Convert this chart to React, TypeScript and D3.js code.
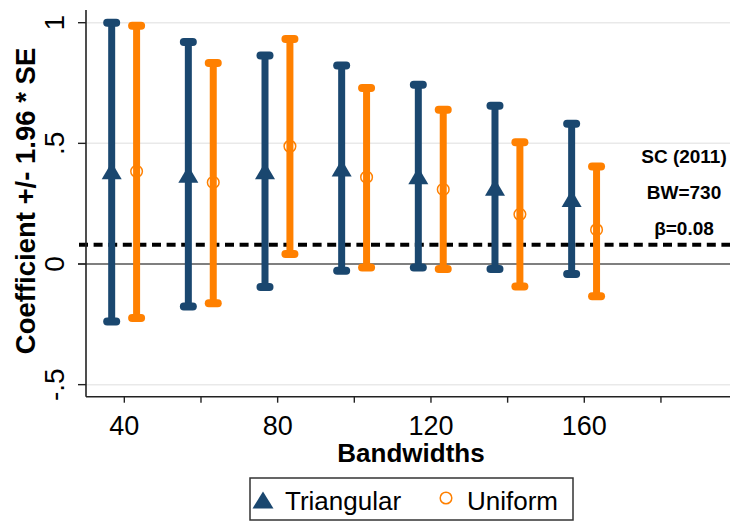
import React from "react";
import * as d3 from "d3";

// Bandwidth groups and the two kernel estimates (coefficient with its 95% band)
const bandwidths = [40, 60, 80, 100, 120, 140, 160];

const triCoef = [0.386, 0.372, 0.386, 0.398, 0.366, 0.318, 0.271];
const triLower = [-0.238, -0.176, -0.095, -0.028, -0.014, -0.021, -0.041];
const triUpper = [1.0, 0.92, 0.864, 0.823, 0.743, 0.656, 0.581];

const uniCoef = [0.384, 0.338, 0.488, 0.36, 0.309, 0.206, 0.142];
const uniLower = [-0.224, -0.163, 0.041, -0.014, -0.021, -0.093, -0.134];
const uniUpper = [0.987, 0.833, 0.932, 0.729, 0.639, 0.505, 0.404];

const xTicks = [40, 60, 80, 100, 120, 140, 160, 180];
const xTickLabels = [40, 80, 120, 160];
const yTicks = [-0.5, 0, 0.5, 1];
const yTickLabels = ["-.5", "0", ".5", "1"];

const benchmark = 0.08;
const notes = ["SC (2011)", "BW=730", "β=0.08"];

const seriesNames = ["Triangular", "Uniform"];

const NAVY = "#1a476f";
const ORANGE = "#ff8000";
const FONT = "'Liberation Sans', Arial, sans-serif";

const W = 730;
const H = 521;
const left = 86;
const top = 10;
const bottom = 396.7;

const x = d3.scaleLinear().domain([30, 200]).range([left, left + 170 * 3.833]);
const y = d3.scaleLinear().domain([0, 1]).range([264, 22.7]);

const TRI_SHIFT = -3.3;
const UNI_SHIFT = 3.2;

function trianglePath(cx: number, cy: number, w = 20, h = 17) {
  return `M${cx},${cy - h / 2}L${cx + w / 2},${cy + h / 2}L${cx - w / 2},${cy + h / 2}Z`;
}

type Series = {
  coef: number[];
  lower: number[];
  upper: number[];
  shift: number;
  color: string;
  marker: "triangle" | "circle";
};

const series: Series[] = [
  { coef: triCoef, lower: triLower, upper: triUpper, shift: TRI_SHIFT, color: NAVY, marker: "triangle" },
  { coef: uniCoef, lower: uniLower, upper: uniUpper, shift: UNI_SHIFT, color: ORANGE, marker: "circle" },
];

function ErrorBars({ s }: { s: Series }) {
  return (
    <g>
      {bandwidths.map((bw, i) => {
        const cx = x(bw + s.shift);
        const yHi = y(s.upper[i]);
        const yLo = y(s.lower[i]);
        const yc = y(s.coef[i]);
        return (
          <g key={bw}>
            <line x1={cx} x2={cx} y1={yHi} y2={yLo} stroke={s.color} strokeWidth={7} />
            <line x1={cx - 4.5} x2={cx + 4.5} y1={yHi} y2={yHi} stroke={s.color} strokeWidth={8} strokeLinecap="round" />
            <line x1={cx - 4.5} x2={cx + 4.5} y1={yLo} y2={yLo} stroke={s.color} strokeWidth={8} strokeLinecap="round" />
            {s.marker === "triangle" ? (
              <path d={trianglePath(cx, yc)} fill={s.color} />
            ) : (
              <circle cx={cx} cy={yc} r={5.8} fill="none" stroke={s.color} strokeWidth={1.5} />
            )}
          </g>
        );
      })}
    </g>
  );
}

export default function App() {
  return (
    <svg
      width={W}
      height={H}
      viewBox={`0 0 ${W} ${H}`}
      style={{ position: "absolute", left: 0, top: 0, background: "#fff" }}
      fontFamily={FONT}
    >
      <rect x={0} y={0} width={W} height={H} fill="#fff" />

      {/* horizontal grid */}
      {yTicks
        .filter((t) => t !== 0)
        .map((t) => (
          <line key={t} x1={left} x2={W} y1={y(t)} y2={y(t)} stroke="#e9e9e9" strokeWidth={1.5} />
        ))}
      <line x1={78} x2={W} y1={y(0)} y2={y(0)} stroke="#000" strokeWidth={1.2} />
      <line x1={79} x2={W} y1={y(benchmark)} y2={y(benchmark)} stroke="#000" strokeWidth={4} strokeDasharray="9 5.6" />

      {series.map((s, k) => (
        <ErrorBars key={k} s={s} />
      ))}

      {/* y axis */}
      <line x1={left} x2={left} y1={top} y2={bottom} stroke="#222" strokeWidth={1.6} />
      {yTicks.map((t, i) => (
        <g key={t}>
          <line x1={78} x2={left} y1={y(t)} y2={y(t)} stroke="#222" strokeWidth={1.4} />
          <text
            transform={`translate(64,${y(t)}) rotate(-90)`}
            textAnchor="middle"
            fontSize={28}
            fill="#000"
          >
            {yTickLabels[i]}
          </text>
        </g>
      ))}
      <text
        transform={`translate(35,201) rotate(-90)`}
        textAnchor="middle"
        fontSize={27.5}
        fontWeight="bold"
        fill="#000"
      >
        Coefficient +/- 1.96 * SE
      </text>

      {/* x axis */}
      <line x1={left} x2={W} y1={bottom} y2={bottom} stroke="#222" strokeWidth={1.6} />
      {xTicks.map((t) => (
        <line key={t} x1={x(t)} x2={x(t)} y1={bottom} y2={bottom + 6} stroke="#222" strokeWidth={1.4} />
      ))}
      {xTickLabels.map((t) => (
        <text key={t} x={x(t)} y={435} textAnchor="middle" fontSize={27} fill="#000">
          {t}
        </text>
      ))}
      <text x={411} y={462} textAnchor="middle" fontSize={26} fontWeight="bold" fill="#000">
        Bandwidths
      </text>

      {/* benchmark notes */}
      {notes.map((n, i) => (
        <text key={n} x={684} y={163 + i * 36} textAnchor="middle" fontSize={19} fontWeight="bold" fill="#000">
          {n}
        </text>
      ))}

      {/* legend */}
      <rect x={250} y={478} width={323} height={42} fill="#fff" stroke="#333" strokeWidth={1.5} />
      <path d={trianglePath(263, 500, 21, 17)} fill={NAVY} />
      <text x={285} y={510} fontSize={26} fill="#000">
        {seriesNames[0]}
      </text>
      <circle cx={446} cy={498} r={5.8} fill="none" stroke={ORANGE} strokeWidth={1.5} />
      <text x={467} y={510} fontSize={26} fill="#000">
        {seriesNames[1]}
      </text>
    </svg>
  );
}
